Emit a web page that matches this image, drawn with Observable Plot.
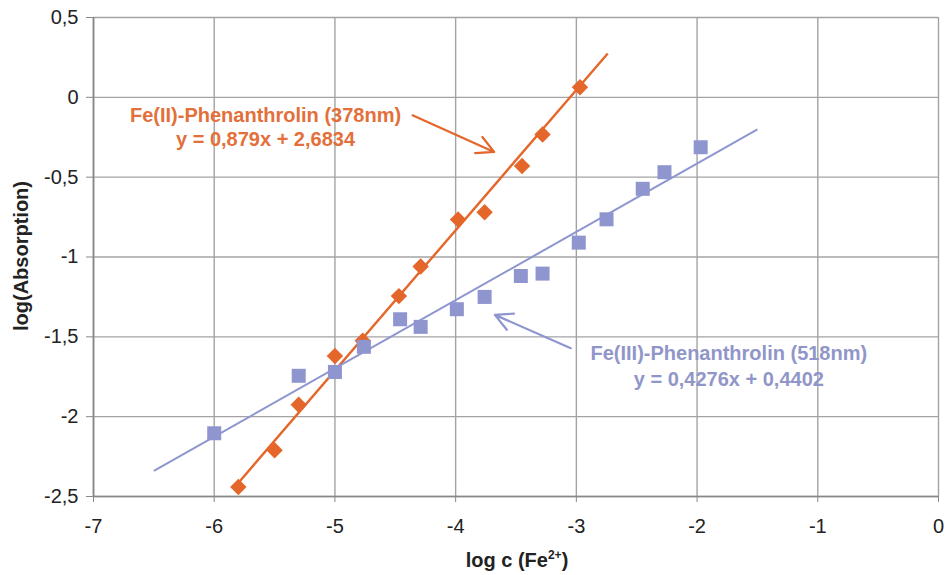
<!DOCTYPE html>
<html><head><meta charset="utf-8">
<script src="https://cdn.jsdelivr.net/npm/d3@7"></script>
<script src="https://cdn.jsdelivr.net/npm/@observablehq/plot@0.6"></script>
<style>
body{margin:0;background:#fff;}
#chart svg{font-family:"Liberation Sans",Arial,sans-serif;background:#fff;}
</style></head><body><div id="chart"></div>
<script>
// Fe(II)-Phenanthrolin (378nm) measurements
const fe2X = [-5.8, -5.5, -5.3, -5.0, -4.77, -4.47, -4.29, -3.98, -3.76, -3.45, -3.28, -2.97];
const fe2Y = [-2.44, -2.21, -1.925, -1.62, -1.525, -1.245, -1.06, -0.765, -0.72, -0.43, -0.233, 0.063];
// Fe(III)-Phenanthrolin (518nm) measurements
const fe3X = [-6.0, -5.3, -5.0, -4.76, -4.46, -4.29, -3.99, -3.76, -3.46, -3.28, -2.98, -2.75, -2.45, -2.27, -1.97];
const fe3Y = [-2.104, -1.744, -1.72, -1.5625, -1.39, -1.4375, -1.327, -1.25, -1.119, -1.104, -0.91, -0.764, -0.573, -0.469, -0.3125];

// trendlines (equations shown in the chart)
const seriesNames = ["Fe(II)-Phenanthrolin (378nm)", "Fe(III)-Phenanthrolin (518nm)"];
const equations = ["y = 0,879x + 2,6834", "y = 0,4276x + 0,4402"];
const fitSlope = [0.879, 0.4276];
const fitIntercept = [2.6834, 0.4402];
const fitFrom = [-5.82, -6.5];
const fitTo = [-2.74, -1.5];

// annotation anchors (data units)
const labelX = [-5.575, -1.737];
const labelY1 = [-0.1125, -1.6075];
const labelY2 = [-0.2656, -1.7656];
const arrowX1 = [-4.357, -3.046];
const arrowY1 = [-0.1125, -1.571];
const arrowX2 = [-3.681, -3.675];
const arrowY2 = [-0.342, -1.3625];

const xTicks = [-7, -6, -5, -4, -3, -2, -1, 0];
const yTicks = [0.5, 0, -0.5, -1, -1.5, -2, -2.5];

const colors = ["#e5662a", "#8e95cf"];
const textColors = ["#e3703a", "#9196c9"];

const fe2 = fe2X.map((x, i) => ({x, y: fe2Y[i]}));
const fe3 = fe3X.map((x, i) => ({x, y: fe3Y[i]}));
const fits = fitSlope.map((m, i) => ({
  i, x1: fitFrom[i], y1: m * fitFrom[i] + fitIntercept[i],
  x2: fitTo[i], y2: m * fitTo[i] + fitIntercept[i]
}));
const arrows = arrowX1.map((x1, i) => ({i, x1, y1: arrowY1[i], x2: arrowX2[i], y2: arrowY2[i]}));
const labels = [];
seriesNames.forEach((s, i) => {
  labels.push({i, x: labelX[i], y: labelY1[i], text: s});
  labels.push({i, x: labelX[i], y: labelY2[i], text: equations[i]});
});
const fmt = d => String(d).replace(".", ",");

const chart = Plot.plot({
  width: 951, height: 575,
  marginLeft: 93, marginRight: 13, marginTop: 17, marginBottom: 79,
  x: {domain: [-7, 0]},
  y: {domain: [-2.5, 0.5]},
  marks: [
    Plot.gridX(xTicks, {stroke: "#a3a3a3", strokeOpacity: 1, strokeWidth: 1.4}),
    Plot.gridY(yTicks, {stroke: "#a3a3a3", strokeOpacity: 1, strokeWidth: 1.4}),
    Plot.ruleX([-7], {stroke: "#888", strokeWidth: 1.7}),
    Plot.ruleY([-2.5], {stroke: "#888", strokeWidth: 1.7}),
    Plot.axisX(xTicks, {tickSize: 6, tickPadding: 16, stroke: "#888", fill: "#222", fontSize: 20, tickFormat: fmt, label: null}),
    Plot.axisY(yTicks, {tickSize: 7, tickPadding: 8, stroke: "#888", fill: "#222", fontSize: 20, tickFormat: fmt, label: null}),
    Plot.link(fits, {x1: "x1", y1: "y1", x2: "x2", y2: "y2", stroke: d => colors[d.i], strokeWidth: d => d.i === 0 ? 2.4 : 2}),
    Plot.dot(fe2, {x: "x", y: "y", symbol: "diamond2", r: 7.4, fill: colors[0], stroke: "none"}),
    Plot.dot(fe3, {x: "x", y: "y", symbol: "square", r: 7.9, fill: colors[1], stroke: "none"}),
    Plot.arrow(arrows, {x1: "x1", y1: "y1", x2: "x2", y2: "y2", stroke: d => colors[d.i], strokeWidth: 2.2, headLength: 13, headAngle: 55}),
    Plot.text(labels, {x: "x", y: "y", text: "text", fill: d => textColors[d.i], fontSize: 20, fontWeight: "bold", textAnchor: "middle"})
  ]
});

const svg = d3.select(chart);
const xl = svg.append("text")
  .attr("x", 517).attr("y", 567)
  .attr("text-anchor", "middle")
  .attr("font-size", 20).attr("font-weight", "bold").attr("fill", "#222");
xl.append("tspan").text("log c (Fe");
xl.append("tspan").attr("dy", -8).attr("font-size", 12).text("2+");
xl.append("tspan").attr("dy", 8).text(")");
svg.append("text")
  .attr("transform", "translate(28,256) rotate(-90)")
  .attr("text-anchor", "middle")
  .attr("font-size", 20).attr("font-weight", "bold").attr("fill", "#222")
  .text("log(Absorption)");

document.getElementById("chart").appendChild(chart);
</script>
</body></html>
